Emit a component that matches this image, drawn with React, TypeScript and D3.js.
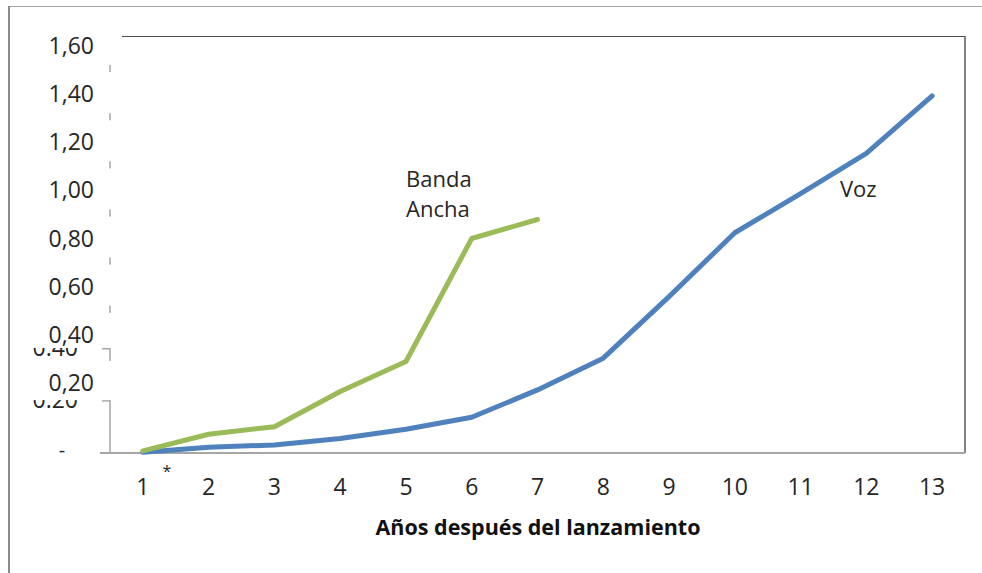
import React from "react";
import * as d3 from "d3";

const years = [1, 2, 3, 4, 5, 6, 7, 8, 9, 10, 11, 12, 13];
const vozValues = [0.003, 0.022, 0.031, 0.056, 0.091, 0.137, 0.242, 0.364, 0.6, 0.845, 0.995, 1.15, 1.37];
const bandaYears = [1, 2, 3, 4, 5, 6, 7];
const bandaValues = [0.008, 0.072, 0.101, 0.236, 0.351, 0.823, 0.896];
const yTicks = [0, 0.2, 0.4, 0.6, 0.8, 1.0, 1.2, 1.4, 1.6];
const yOverlayLabels = ["0,20", "0,40", "0,60", "0,80", "1,00", "1,20", "1,40", "1,60"];
const yOverlayValues = [0.2, 0.4, 0.6, 0.8, 1.0, 1.2, 1.4, 1.6];
const xTitle = "Años después del lanzamiento";
const bandaLabel = ["Banda", "Ancha"];
const vozLabel = "Voz";

const W = 982;
const H = 573;
const left = 110;
const right = 965;
const top = 36;
const bottom = 453;
const FONT = "'Open Sans', 'Noto Sans', sans-serif";
const TXT = "#262626";

export default function App() {
  const x = d3.scalePoint<number>().domain(years).range([left, right]).padding(0.5);
  const y = d3.scaleLinear().domain([0, 1.6]).range([bottom, top]);
  // overlay label boxes sit slightly off the real ticks
  const yLab = d3.scaleLinear().domain([0.2, 1.6]).range([383, 46]);

  const line = d3
    .line<[number, number]>()
    .x((d) => x(d[0]) as number)
    .y((d) => y(d[1]));

  const vozPts: [number, number][] = years.map((yr, i) => [yr, vozValues[i]]);
  const bandaPts: [number, number][] = bandaYears.map((yr, i) => [yr, bandaValues[i]]);

  const boxTop = (v: number) => yLab(v) - 22;
  const boxBottom = (v: number) => (v <= 0.4 ? y(v) - 0.8 : yLab(v) + 19);

  return (
    <svg width={W} height={H} style={{ position: "absolute", left: 0, top: 0, background: "#fff" }}>
      <rect x={0} y={0} width={W} height={H} fill="#fff" />
      {/* outer frame */}
      <line x1={8} x2={W} y1={6.5} y2={6.5} stroke="#a6a6a6" strokeWidth={1} />
      <line x1={9} x2={9} y1={6} y2={H} stroke="#8c8c8c" strokeWidth={2} />

      {/* plot area border */}
      <line x1={left} x2={right} y1={top + 0.5} y2={top + 0.5} stroke="#4d4d4d" strokeWidth={1} />
      <line x1={right} x2={right} y1={top} y2={bottom} stroke="#595959" strokeWidth={1.5} />

      {/* y axis */}
      <line x1={left} x2={left} y1={top} y2={bottom} stroke="#a6a6a6" strokeWidth={1.5} />
      {yTicks.map((t) => (
        <line key={"yt" + t} x1={left - 8} x2={left} y1={y(t)} y2={y(t)} stroke="#a6a6a6" strokeWidth={1.5} />
      ))}
      {/* original axis labels (mostly hidden below overlay boxes) */}
      {yTicks
        .filter((t) => t > 0)
        .map((t) => (
          <text
            key={"yl" + t}
            x={78}
            y={y(t) + 7}
            textAnchor="end"
            fontFamily={FONT}
            fontSize={23}
            fill={TXT}
          >
            {d3.format(".2f")(t)}
          </text>
        ))}
      {/* overlay label boxes */}
      {yOverlayValues.map((v) => (
        <rect
          key={"yb" + v}
          x={22}
          y={boxTop(v)}
          width={122 - 22}
          height={boxBottom(v) - boxTop(v)}
          fill="#fff"
        />
      ))}
      {yOverlayValues.map((v, i) => (
        <text
          key={"yo" + v}
          x={94}
          y={yLab(v) + 8}
          textAnchor="end"
          fontFamily={FONT}
          fontSize={23}
          fill={TXT}
        >
          {yOverlayLabels[i]}
        </text>
      ))}
      <text x={62} y={y(0) + 4} textAnchor="middle" fontFamily={FONT} fontSize={20} fill={TXT}>
        -
      </text>

      {/* x axis */}
      <line x1={left - 10} x2={right} y1={bottom} y2={bottom} stroke="#a6a6a6" strokeWidth={2} />
      {years.map((yr) => (
        <text
          key={"xl" + yr}
          x={x(yr) as number}
          y={495}
          textAnchor="middle"
          fontFamily={FONT}
          fontSize={23}
          fill={TXT}
        >
          {yr}
        </text>
      ))}
      <text x={167} y={477} textAnchor="middle" fontFamily={FONT} fontSize={16} fill={TXT}>
        *
      </text>
      <text x={538} y={535} textAnchor="middle" fontFamily={FONT} fontSize={21.5} fontWeight="bold" fill="#111">
        {xTitle}
      </text>

      {/* series */}
      <path d={line(vozPts) as string} fill="none" stroke="#4F81BD" strokeWidth={5} strokeLinejoin="round" strokeLinecap="round" />
      <path d={line(bandaPts) as string} fill="none" stroke="#9BBB59" strokeWidth={5} strokeLinejoin="round" strokeLinecap="round" />

      {/* annotations */}
      <text x={406} y={187} fontFamily={FONT} fontSize={22} fill={TXT}>
        {bandaLabel[0]}
      </text>
      <text x={406} y={217} fontFamily={FONT} fontSize={22} fill={TXT}>
        {bandaLabel[1]}
      </text>
      <text x={840} y={197} fontFamily={FONT} fontSize={22} fill={TXT}>
        {vozLabel}
      </text>
    </svg>
  );
}
